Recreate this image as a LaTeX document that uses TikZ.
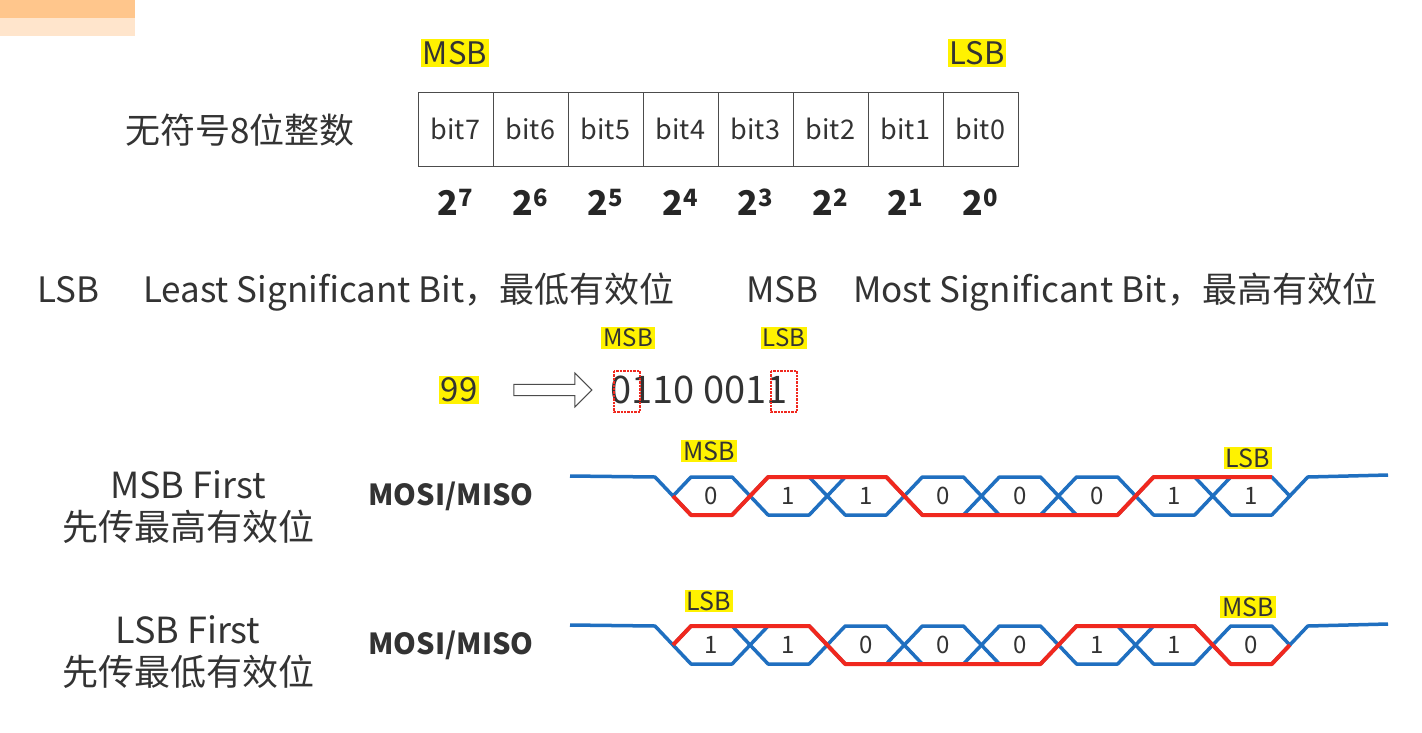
\documentclass[tikz,border=0pt]{standalone}
\usepackage{fontspec}
\setmainfont{Noto Sans CJK SC}
\usetikzlibrary{shapes.arrows}
\definecolor{hl}{HTML}{FFF200}
\definecolor{wblue}{HTML}{1F6FC0}
\definecolor{wred}{HTML}{F0281E}
\definecolor{txt}{HTML}{333333}
\tikzset{
  hlbox/.style={fill=hl,inner sep=2pt,font=\fontsize{#1}{#1}\selectfont,text=txt},
  lbl/.style={font=\fontsize{#1}{#1}\selectfont,text=txt,inner sep=0pt},
  cell/.style={draw=black!70,minimum width=75pt,minimum height=74pt,font=\fontsize{27}{27}\selectfont,text=txt,inner sep=0pt},
  pw/.style={font=\fontsize{34}{34}\selectfont,text=black!85,inner sep=0pt},
  bluew/.style={wblue,line width=3.5pt,line join=round},
  redw/.style={wred,line width=4pt,line join=round},
  bitlbl/.style={font=\fontsize{24}{24}\selectfont,text=txt,inner sep=0pt}
}
\begin{document}
\begin{tikzpicture}[x=1pt,y=-1pt]
\useasboundingbox[fill=white] (0,0) rectangle (1422,732);
% blurred corner
\fill[orange!45] (0,0) rectangle (135,18);
\fill[orange!20] (0,18) rectangle (135,36);
% top register
\node[hlbox=31] (msbA) at (455,53) {MSB};
\node[hlbox=31] (lsbA) at (977,53) {LSB};
\node[lbl=35] (u8) at (240,130) {无符号8位整数};
\foreach \i in {0,...,7}{
  \pgfmathtruncatemacro{\b}{7-\i}
  \node[cell] (c\i) at (455.5+75*\i,129) {bit\b};
  \node[pw] (p\i) at (455.5+75*\i,202) {$\mathbf{2^{\b}}$};
}
% definitions
\node[lbl=35,anchor=base west] (lsbd) at (37,302) {LSB};
\node[lbl=35,anchor=base west] (lsbt) at (143,302) {Least Significant Bit，最低有效位};
\node[lbl=35,anchor=base west] (msbd) at (746,302) {MSB};
\node[lbl=35,anchor=base west] (msbt) at (853,302) {Most Significant Bit，最高有效位};
% 99 example
\node[hlbox=24] (msbB) at (628,338) {MSB};
\node[hlbox=24] (lsbB) at (784,338) {LSB};
\node[hlbox=33] (n99) at (459,390) {99};
\node[single arrow,draw=black!70,line width=1pt,minimum height=78pt,minimum width=34pt,single arrow head extend=5pt,inner sep=2pt] (arr) at (550,390) {};
\node[lbl=38,anchor=west] (bin) at (610,390) {0110 0011};
\draw[wred,densely dotted,line width=2.4pt] (614,371) rectangle (640,412);
\draw[wred,densely dotted,line width=2.4pt] (771,371) rectangle (797,412);
% left labels
\node[lbl=36] (mf1) at (188,485) {MSB First};
\node[lbl=36] (mf2) at (188,527) {先传最高有效位};
\node[lbl=36] (lf1) at (188,630) {LSB First};
\node[lbl=36] (lf2) at (188,672) {先传最低有效位};
\node[lbl=29,font=\fontsize{29}{29}\selectfont\bfseries] (mm1) at (451,496) {MOSI/MISO};
\node[lbl=29,font=\fontsize{29}{29}\selectfont\bfseries] (mm2) at (451,645) {MOSI/MISO};
% waveforms
\foreach \yh/\bits/\pre in {477/{0,1,1,0,0,0,1,1}/t, 626/{1,1,0,0,0,1,1,0}/b}{
  \pgfmathsetmacro{\yl}{\yh+38}
  \pgfmathsetmacro{\ym}{\yh+19}
  \draw[bluew] (570,\yh-1) -- (655,\yh) -- (673,\ym);
  \draw[bluew] (1289.8,\ym) -- (1307.8,\yh) -- (1388,\yh-2);
  \foreach \i in {0,...,7}{
    \pgfmathsetmacro{\xa}{673+77.1*\i}
    \pgfmathsetmacro{\xb}{\xa+77.1}
    \draw[bluew] (\xa,\ym) -- (\xa+18,\yh) -- (\xb-18,\yh) -- (\xb,\ym) -- (\xb-18,\yl) -- (\xa+18,\yl) -- cycle;
  }
  \foreach \v [count=\k from 0] in \bits{
    \node[bitlbl] (\pre bit\k) at ({673+77.1*\k+38.5},\ym) {\v};
  }
}
% red data paths
\draw[redw] (673,496) -- (691,515) -- (732.1,515) -- (768.1,477) -- (886.3,477) -- (922.3,515) -- (1117.6,515) -- (1153.6,477) -- (1271.8,477);
\draw[redw] (673,645) -- (691,626) -- (809.2,626) -- (845.2,664) -- (1040.5,664) -- (1076.5,626) -- (1194.7,626) -- (1230.7,664) -- (1271.8,664) -- (1289.8,645);
% waveform labels
\node[hlbox=25] (msbC) at (709,451) {MSB};
\node[hlbox=25] (lsbC) at (1248,458) {LSB};
\node[hlbox=25] (lsbD) at (709,601) {LSB};
\node[hlbox=25] (msbD) at (1248,607) {MSB};
\end{tikzpicture}
\end{document}
